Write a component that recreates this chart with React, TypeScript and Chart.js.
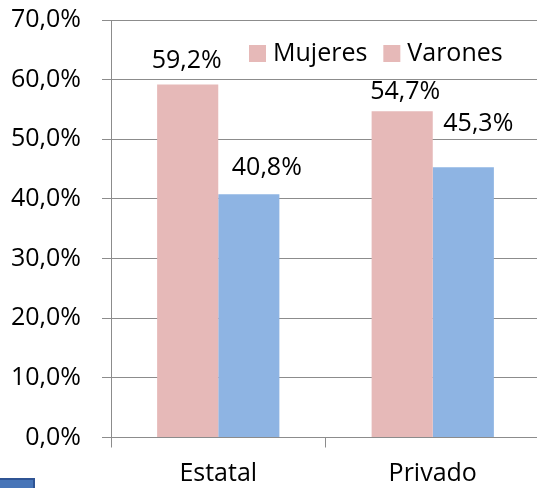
import React, { useEffect, useRef } from "react";
import { Chart, registerables } from "chart.js";

Chart.register(...registerables);

const categories = ["Estatal", "Privado"];
const seriesNames = ["Mujeres", "Varones"];
const mujeres = [59.2, 54.7];
const varones = [40.8, 45.3];
const yMin = 0;
const yMax = 70;
const yStep = 10;

const FONT = "'Open Sans', sans-serif";
const PINK = "#E6B9B8";
const BLUE = "#8EB4E3";
const GRID = "#8C8C8C";
const legendColors = [PINK, PINK];
// per dataset, per category: [dx, dy above bar top] for value labels
const labelOffsets = [
  [[-1, 24], [3, 19]],
  [[18, 26.5], [15, 43.5]],
];

const fmt = (v: number) => Number(v).toFixed(1).replace(".", ",") + "%";

const valueLabels = {
  id: "valueLabels",
  afterDatasetsDraw(chart: any) {
    const ctx = chart.ctx;
    ctx.save();
    ctx.font = `25px ${FONT}`;
    ctx.fillStyle = "#000";
    ctx.textAlign = "center";
    ctx.textBaseline = "middle";
    chart.data.datasets.forEach((ds: any, di: number) => {
      const meta = chart.getDatasetMeta(di);
      meta.data.forEach((bar: any, i: number) => {
        const [dx, dy] = labelOffsets[di][i];
        ctx.fillText(fmt(ds.data[i]), bar.x + dx, bar.y - dy);
      });
    });
    ctx.restore();
  },
};

const innerLegend = {
  id: "innerLegend",
  afterDraw(chart: any) {
    const ctx = chart.ctx;
    ctx.save();
    ctx.font = `25px ${FONT}`;
    ctx.textAlign = "left";
    ctx.textBaseline = "alphabetic";
    let x = 249;
    const boxTop = 45;
    const box = 17;
    chart.data.datasets.forEach((ds: any, i: number) => {
      ctx.fillStyle = legendColors[i];
      ctx.fillRect(x, boxTop, box, box);
      x += box + 7;
      ctx.fillStyle = "#000";
      ctx.fillText(ds.label, x, 61);
      x += ctx.measureText(ds.label).width + 16;
    });
    ctx.restore();
  },
};

export default function App() {
  const ref = useRef<HTMLCanvasElement>(null);

  useEffect(() => {
    if (!ref.current) return;
    const chart = new Chart(ref.current, {
      type: "bar",
      data: {
        labels: categories,
        datasets: [
          { label: seriesNames[0], data: mujeres, backgroundColor: PINK, borderWidth: 0 },
          { label: seriesNames[1], data: varones, backgroundColor: BLUE, borderWidth: 0 },
        ],
      },
      options: {
        responsive: false,
        animation: false,
        devicePixelRatio: 1,
        layout: { padding: { top: 20, left: 0, right: 0, bottom: 0 } },
        datasets: { bar: { barPercentage: 1, categoryPercentage: 0.57 } },
        plugins: {
          legend: { display: false },
          tooltip: { enabled: false },
        },
        scales: {
          x: {
            grid: {
              display: true,
              drawOnChartArea: false,
              drawTicks: true,
              tickLength: 10,
              color: GRID,
              offset: true,
            },
            border: { display: true, color: GRID, width: 1 },
            ticks: { font: { family: FONT, size: 25 }, color: "#000", padding: 11 },
            afterFit: (s: any) => {
              s.height = 50.5;
              s.paddingLeft = 0;
              s.paddingRight = 0;
            },
          },
          y: {
            min: yMin,
            max: yMax,
            ticks: {
              stepSize: yStep,
              callback: (v: any) => fmt(v),
              font: { family: FONT, size: 25 },
              color: "#000",
              padding: 21,
            },
            grid: { color: GRID, tickLength: 9, lineWidth: 1 },
            border: { display: true, color: GRID, width: 1 },
            afterFit: (s: any) => {
              s.width = 111;
              s.paddingTop = 0;
              s.paddingBottom = 0;
            },
          },
        },
      },
      plugins: [valueLabels, innerLegend],
    });
    return () => chart.destroy();
  }, []);

  return (
    <div
      style={{
        position: "fixed",
        left: 0,
        top: 0,
        width: 537,
        height: 488,
        overflow: "hidden",
        background: "#fff",
      }}
    >
      <canvas ref={ref} width={540} height={488} style={{ display: "block" }} />
      <div
        style={{
          position: "absolute",
          left: 0,
          top: 478,
          width: 33,
          height: 10,
          background: "#4775B8",
          borderTop: "2px solid #2F5494",
          borderRight: "2px solid #2F5494",
        }}
      />
    </div>
  );
}
